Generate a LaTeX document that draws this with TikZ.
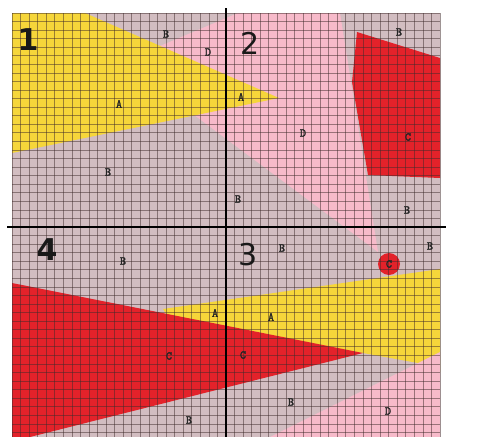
\documentclass[tikz,border=0pt]{standalone}
\usepackage{fontspec}
\newfontfamily\numfont{DejaVu Sans}
\newfontfamily\labfont{Latin Modern Mono}[FakeBold=2.2]
\definecolor{cB}{HTML}{D2BDC1}
\definecolor{cD}{HTML}{F7BACA}
\definecolor{cA}{HTML}{F6D63A}
\definecolor{cC}{HTML}{E3222A}
\definecolor{gridc}{HTML}{3E2A2A}
\begin{document}
\begin{tikzpicture}[x=1pt,y=-1pt,
  gridline/.style={draw=gridc,opacity=0.5,line width=0.7pt},
  axisline/.style={draw=black,line width=2.6pt},
  lab/.style={font=\labfont\fontsize{12}{12}\selectfont,inner sep=0pt,text=black!85},
  qnum/.style={font=\numfont\fontsize{30}{30}\selectfont,inner sep=0pt,text=black!90},
  qnumb/.style={font=\numfont\bfseries\fontsize{30}{30}\selectfont,inner sep=0pt,text=black!90}]
\useasboundingbox (0,0) rectangle (483,437);
\fill[white] (0,0) rectangle (483,437);
\begin{scope}
\clip (12,13) rectangle (440,437);
\fill[cB] (12,13) rectangle (440,437);
% upper pink wedge D
\fill[cD] (378,252) -- (170,97) -- (160,46) -- (238,13) -- (340,13) -- cycle;
% upper yellow A
\fill[cA] (12,13) -- (85,13) -- (279,98) -- (12,153) -- cycle;
% upper red polygon C
\fill[cC] (357,32) -- (440,58) -- (440,178) -- (368,175) -- (352,82) -- cycle;
% lower yellow A
\fill[cA] (163,309) -- (440,269) -- (440,372) -- (418,363) -- (363,353) -- (170,320) -- cycle;
% lower red C
\fill[cC] (12,283) -- (363,353) -- (30,437) -- (12,437) -- cycle;
% lower pink D
\fill[cD] (270,437) -- (440,352) -- (440,437) -- cycle;
\end{scope}
% small red circle
\node[circle,fill=cC,minimum size=22pt,inner sep=0pt] (cc) at (389,264) {};
% grid
\foreach \k in {0,...,50} \draw[gridline] ({12+8.56*\k},13) -- ({12+8.56*\k},437);
\foreach \k in {0,...,49} \draw[gridline] (12,{13+8.56*\k}) -- (440,{13+8.56*\k});
% axes
\coordinate (vt) at (226,8);
\coordinate (vb) at (226,437);
\coordinate (hl) at (7,227);
\coordinate (hr) at (446,227);
\draw[axisline] (vt) -- (vb);
\draw[axisline] (hl) -- (hr);
% quadrant numbers
\node[qnumb] (q1) at (28,40) {1};
\node[qnum] (q2) at (250,43) {2};
\node[qnum] (q3) at (248,255) {3};
\node[qnumb] (q4) at (47,250) {4};
% labels
\node[lab] (l1) at (166,34) {B};
\node[lab] (l2) at (208,52) {D};
\node[lab] (l3) at (119,104) {A};
\node[lab] (l4) at (108,172) {B};
\node[lab] (l5) at (241,97) {A};
\node[lab] (l6) at (238,199) {B};
\node[lab] (l7) at (399,32) {B};
\node[lab] (l8) at (303,133) {D};
\node[lab] (l9) at (408,137) {C};
\node[lab] (l10) at (407,210) {B};
\node[lab] (l11) at (123,261) {B};
\node[lab] (l12) at (282,248) {B};
\node[lab] (l13) at (430,246) {B};
\node[lab] (l14) at (389,264) {C};
\node[lab] (l15) at (215,313) {A};
\node[lab] (l16) at (271,317) {A};
\node[lab] (l17) at (169,356) {C};
\node[lab] (l18) at (243,355) {C};
\node[lab] (l19) at (291,402) {B};
\node[lab] (l20) at (189,420) {B};
\node[lab] (l21) at (388,411) {D};
\end{tikzpicture}
\end{document}
